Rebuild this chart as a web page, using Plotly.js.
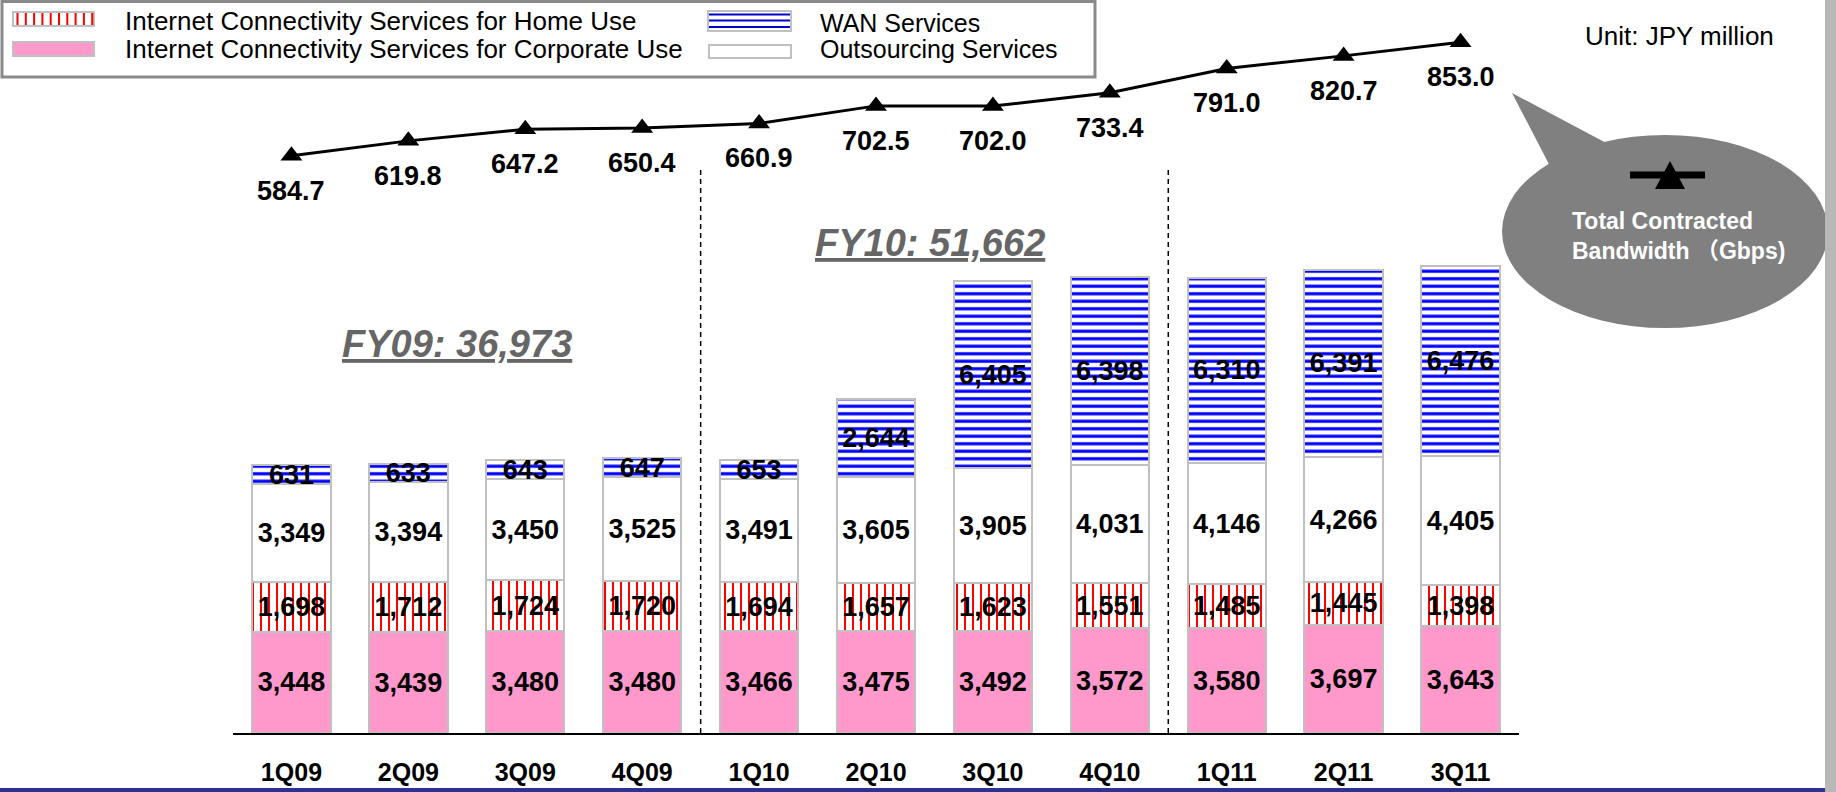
<!DOCTYPE html>
<html><head><meta charset="utf-8">
<script src="https://cdn.plot.ly/plotly-3.0.1.min.js"></script>
<style>html,body{margin:0;padding:0;background:#fff;overflow:hidden}#chart{width:1836px;height:792px}</style>
</head><body><div id="chart"></div>
<script>
// ---- data ----
const quarters = ['1Q09','2Q09','3Q09','4Q09','1Q10','2Q10','3Q10','4Q10','1Q11','2Q11','3Q11'];
const corporateUse = [3448,3439,3480,3480,3466,3475,3492,3572,3580,3697,3643];
const homeUse = [1698,1712,1724,1720,1694,1657,1623,1551,1485,1445,1398];
const outsourcing = [3349,3394,3450,3525,3491,3605,3905,4031,4146,4266,4405];
const wanServices = [631,633,643,647,653,2644,6405,6398,6310,6391,6476];
const bandwidthGbps = [584.7,619.8,647.2,650.4,660.9,702.5,702.0,733.4,791.0,820.7,853.0];
const seriesNames = ['Internet Connectivity Services for Home Use','Internet Connectivity Services for Corporate Use','WAN Services','Outsourcing Services'];
const fiscalYearsAnnotated = ['FY09','FY10'];
const unitText = 'Unit: JPY million';
const lineLegendText = 'Total Contracted<br>Bandwidth （Gbps)';

// ---- geometry helpers (decorations only) ----
const W = 1836, H = 792;
const M = {l:233, r:317, t:20, b:59};
const PW = W - M.l - M.r, PH = H - M.t - M.b;
const px = x => (x - M.l) / PW;
const py = y => (H - M.b - y) / PH;

const FONT = 'Liberation Sans, Arial, Noto Sans CJK JP, sans-serif';
const GRAY_LINE = '#c0c0c0';
const labelFont = {family: FONT, size: 27, color: '#000', weight: 'bold'};

const barBase = {
  type: 'bar', x: quarters, textposition: 'inside', insidetextanchor: 'middle',
  textangle: 0, constraintext: 'none', texttemplate: '%{y:,}', textfont: labelFont,
  hoverinfo: 'skip', showlegend: false
};
const traces = [
  Object.assign({}, barBase, {name: seriesNames[1], y: corporateUse,
    marker: {color: '#ff99cc', line: {color: GRAY_LINE, width: 2}}}),
  Object.assign({}, barBase, {name: seriesNames[0], y: homeUse,
    marker: {color: '#ffffff', line: {color: GRAY_LINE, width: 2},
      pattern: {shape: '|', fgcolor: '#ff0000', bgcolor: '#ffffff', size: 8, solidity: 0.25}}}),
  Object.assign({}, barBase, {name: seriesNames[3], y: outsourcing,
    marker: {color: '#ffffff', line: {color: GRAY_LINE, width: 2}}}),
  Object.assign({}, barBase, {name: seriesNames[2], y: wanServices,
    marker: {color: '#ffffff', line: {color: GRAY_LINE, width: 2},
      pattern: {shape: '-', fgcolor: '#0000ff', bgcolor: '#ffffff', size: 7.5, solidity: 0.42}}}),
  {type: 'scatter', x: quarters, y: bandwidthGbps, yaxis: 'y2', mode: 'lines+markers',
   line: {color: '#000', width: 3}, marker: {symbol: 'triangle-up', size: 19, color: '#000'},
   hoverinfo: 'skip', showlegend: false, cliponaxis: false}
];

// ---- annotations ----
const annotations = [];
bandwidthGbps.forEach((v, i) => annotations.push({
  x: quarters[i], y: v, xref: 'x', yref: 'y2', yshift: -35, showarrow: false,
  text: v.toFixed(1), font: labelFont, xanchor: 'center', yanchor: 'middle'
}));

// fiscal-year totals computed from the stacked series
const totals = quarters.map((q, i) => corporateUse[i] + homeUse[i] + outsourcing[i] + wanServices[i]);
const fyTotal = fy => quarters.reduce((s, q, i) => ('FY' + q.slice(2)) === fy ? s + totals[i] : s, 0);
const fyPos = {FY09: [457, 344], FY10: [930, 243]};
fiscalYearsAnnotated.forEach(fy => annotations.push({
  xref: 'paper', yref: 'paper', x: px(fyPos[fy][0]), y: py(fyPos[fy][1]), showarrow: false,
  xanchor: 'center', yanchor: 'middle',
  text: fy + ': ' + fyTotal(fy).toLocaleString('en-US'),
  font: {family: FONT, size: 38, color: '#666666', weight: 'bold', style: 'italic', lineposition: 'under'}
}));

// unit
annotations.push({xref:'paper', yref:'paper', x: px(1583), y: py(36), xanchor:'left', yanchor:'middle',
  showarrow:false, text: unitText, font:{family: FONT, size: 26, color:'#000'}});

// bubble text
annotations.push({xref:'paper', yref:'paper', x: px(1570), y: py(236), xanchor:'left', yanchor:'middle',
  align:'left', showarrow:false, text: lineLegendText, font:{family: FONT, size: 23, color:'#ffffff', weight:'bold'}});

// legend texts
const legendText = [
  [seriesNames[0], 123, 20.5, 26], [seriesNames[1], 123, 49, 26],
  [seriesNames[2], 818, 23, 25], [seriesNames[3], 818, 48.5, 25]
];
legendText.forEach(([t, x, y, s]) => annotations.push({xref:'paper', yref:'paper', x: px(x), y: py(y),
  xanchor:'left', yanchor:'middle', showarrow:false, text: t, font:{family: FONT, size: s, color:'#000'}}));

// ---- shapes ----
const shapes = [];
const rect = (x0, y0, x1, y1, fill, lc, lw, layer) => ({type:'rect', xref:'paper', yref:'paper',
  x0: px(x0), x1: px(x1), y0: py(y0), y1: py(y1), fillcolor: fill,
  line: {color: lc || 'rgba(0,0,0,0)', width: lw || 0}, layer: layer || 'above'});
const seg = (x0, y0, x1, y1, c, w) => ({type:'line', xref:'paper', yref:'paper',
  x0: px(x0), x1: px(x1), y0: py(y0), y1: py(y1), line: {color: c, width: w}});

// fiscal year dividers (between categories where fiscal year changes)
for (let i = 1; i < quarters.length; i++) {
  if (quarters[i].slice(2) !== quarters[i-1].slice(2)) {
    shapes.push({type:'line', xref:'x', yref:'paper', x0: i - 0.5, x1: i - 0.5, y0: 0, y1: py(170),
      line: {color:'#000', width: 1.5, dash: '5px,4px'}, layer: 'below'});
  }
}

// legend box and swatches
shapes.push(rect(2, 1.5, 1095, 77, '#ffffff', '#8a8a8a', 3));
shapes.push(rect(13, 12, 94, 26, '#ffffff', GRAY_LINE, 2));
for (let k = 0; k < 10; k++) shapes.push(seg(17.5 + k * 8.3, 13, 17.5 + k * 8.3, 25, '#ff0000', 2));
shapes.push(rect(13, 42, 94, 56, '#ff99cc', GRAY_LINE, 2));
shapes.push(rect(708, 11, 791, 31, '#ffffff', GRAY_LINE, 2));
[14.5, 20.5, 27].forEach(y => shapes.push(seg(709, y, 790, y, '#0000cc', 2)));
shapes.push(rect(709, 45, 791, 58, '#ffffff', GRAY_LINE, 2));

// speech bubble
shapes.push({type:'path', xref:'paper', yref:'paper', fillcolor:'#808080', line:{width:0},
  path: `M${px(1512)},${py(93)} L${px(1552)},${py(170)} L${px(1610)},${py(145)} Z`});
shapes.push({type:'circle', xref:'paper', yref:'paper', x0: px(1502), x1: px(1828), y0: py(135), y1: py(328),
  fillcolor:'#808080', line:{width:0}});
shapes.push(seg(1630, 175, 1705, 175, '#000', 7));
shapes.push({type:'path', xref:'paper', yref:'paper', fillcolor:'#000', line:{width:0},
  path: `M${px(1670)},${py(161)} L${px(1685)},${py(189)} L${px(1655)},${py(189)} Z`});

// frame decorations
shapes.push(rect(1825, 0, 1836, 792, '#b8b8b8'));
shapes.push(rect(0, 788, 1825, 792, '#2e3192'));

const layout = {
  width: W, height: H, margin: M, paper_bgcolor: '#ffffff', plot_bgcolor: '#ffffff',
  barmode: 'stack', bargap: 0.33, showlegend: false,
  font: {family: FONT, color: '#000'},
  xaxis: {type: 'category', range: [-0.5, quarters.length - 0.5], showline: true, linecolor: '#000',
    linewidth: 2, ticks: '', showgrid: false, zeroline: false, ticklabelstandoff: 16,
    tickfont: {family: FONT, size: 25, color: '#000', weight: 'bold'}},
  yaxis: {range: [0, PH * 34.1], visible: false, showgrid: false, zeroline: false},
  yaxis2: {range: [-780, -780 + PH * 2.364], overlaying: 'y', visible: false, showgrid: false, zeroline: false},
  annotations: annotations, shapes: shapes
};

Plotly.newPlot('chart', traces, layout, {staticPlot: true, displayModeBar: false});
</script></body></html>
